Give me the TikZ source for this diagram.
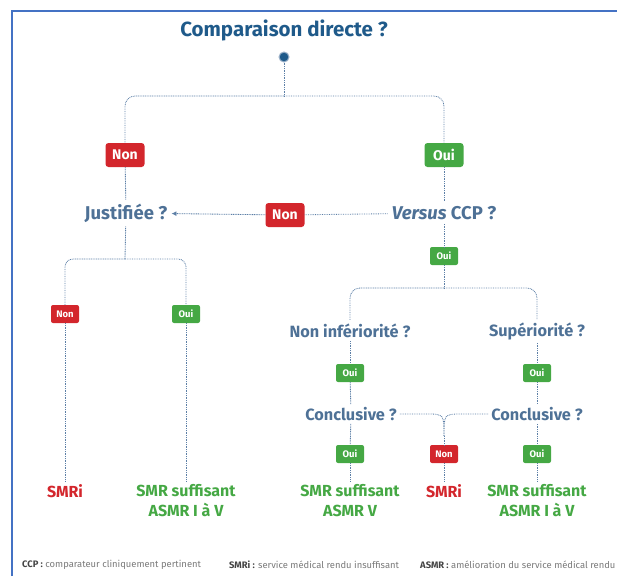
\documentclass[tikz,border=0pt]{standalone}
\usepackage{fontspec}
\setmainfont{Fira Sans}
\usepackage{tikz}
\usepackage{xcolor}
\usetikzlibrary{arrows.meta}

\definecolor{titleblue}{HTML}{1F5A8A}
\definecolor{askblue}{HTML}{4E7196}
\definecolor{linkblue}{HTML}{5C7FA6}
\definecolor{framblue}{HTML}{4472C4}
\definecolor{nonred}{HTML}{D3262C}
\definecolor{ouigreen}{HTML}{45A844}
\definecolor{notegray}{HTML}{7A7A7A}
\definecolor{notedark}{HTML}{444444}

\tikzset{
  link/.style={linkblue, line width=0.85pt, dash pattern=on 0.85pt off 0.9pt},
  ask/.style={text=askblue, font=\fontsize{16.3}{19}\selectfont\bfseries, inner sep=3pt},
  bigask/.style={ask, font=\fontsize{18.5}{22}\selectfont\bfseries, inner sep=4pt},
  bignon/.style={fill=nonred, text=white, rounded corners=3pt, minimum width=39pt, minimum height=24pt, inner sep=1pt, font=\fontsize{14}{16}\selectfont\bfseries},
  bigoui/.style={bignon, fill=ouigreen},
  smallnon/.style={fill=nonred, text=white, rounded corners=2pt, minimum width=28pt, minimum height=18pt, inner sep=1pt, font=\fontsize{9.5}{11}\selectfont\bfseries},
  smalloui/.style={smallnon, fill=ouigreen},
  good/.style={text=ouigreen, align=center, font=\fontsize{16}{20}\selectfont\bfseries, inner sep=3pt},
  bad/.style={text=nonred, font=\fontsize{16}{20}\selectfont\bfseries, inner sep=3pt},
  note/.style={text=notegray, font=\fontsize{9.4}{11}\selectfont, anchor=west, inner sep=0pt}
}

\begin{document}
\begin{tikzpicture}[x=1pt, y=-1pt]
    \useasboundingbox (0,0) rectangle (617,576);

    % Frame
    \draw[framblue, line width=1.6pt] (12,576) -- (12,11) -- (617,11);

    % Title and start point
    \node[text=titleblue, font=\fontsize{20.5}{24}\selectfont\bfseries] (title) at (284,30) {Comparaison directe ?};
    \node[circle, fill=titleblue, draw=linkblue!60, line width=1pt, inner sep=0pt, minimum size=10pt] (dot) at (284,57) {};

    % First level
    \coordinate (s1) at (284,96);
    \node[bignon] (nonA) at (125,155) {Non};
    \node[bigoui] (ouiA) at (444,155) {Oui};
    \draw[link] (dot) -- (s1);
    \draw[link, rounded corners=10pt] (s1) -| (nonA);
    \draw[link, rounded corners=10pt] (s1) -| (ouiA);

    % Questions
    \node[bigask] (justif) at (126,213) {Justifiée ?};
    \node[bigask] (versus) at (444,213) {\textit{Versus} CCP ?};
    \node[bignon] (nonB) at (285,215) {Non};
    \draw[link] (nonA) -- (justif);
    \draw[link] (ouiA) -- (versus);
    \draw[link] (versus) -- (nonB);
    \draw[link, -{Latex[length=5pt, width=5pt]}] (nonB) -- (justif);

    % Left branch
    \coordinate (s2) at (125,259);
    \node[smallnon] (nonC) at (65,314) {Non};
    \node[smalloui] (ouiC) at (186,314) {Oui};
    \draw[link] (justif) -- (s2);
    \draw[link, rounded corners=8pt] (s2) -| (nonC);
    \draw[link, rounded corners=8pt] (s2) -| (ouiC);
    \node[bad] (smriA) at (65,491) {SMRi};
    \node[good] (smrA) at (186,501) {SMR suffisant\\ASMR I à V};
    \draw[link] (nonC) -- (smriA);
    \draw[link] (ouiC) -- (smrA);

    % Right branch
    \node[smalloui] (ouiD) at (444,256) {Oui};
    \coordinate (s3) at (444,288);
    \draw[link] (versus) -- (ouiD);
    \draw[link] (ouiD) -- (s3);
    \node[ask] (noninf) at (350,331) {Non infériorité ?};
    \node[ask] (sup) at (537,331) {Supériorité ?};
    \draw[link, rounded corners=10pt] (s3) -| (noninf);
    \draw[link, rounded corners=10pt] (s3) -| (sup);

    \node[smalloui] (ouiE) at (350,373) {Oui};
    \node[smalloui] (ouiF) at (537,373) {Oui};
    \node[ask] (concL) at (351,414) {Conclusive ?};
    \node[ask] (concR) at (537,414) {Conclusive ?};
    \draw[link] (noninf) -- (ouiE);
    \draw[link] (ouiE) -- (concL);
    \draw[link] (sup) -- (ouiF);
    \draw[link] (ouiF) -- (concR);

    % Merge of the two "Conclusive ?"
    \coordinate (m1) at (426,414);
    \coordinate (m2) at (462,414);
    \coordinate (mj) at (444,436);
    \node[smalloui] (ouiG) at (350,454) {Oui};
    \node[smallnon] (nonH) at (444,454) {Non};
    \node[smalloui] (ouiI) at (537,454) {Oui};
    \draw[link] (concL) -- (m1) .. controls (444,414) .. (mj);
    \draw[link] (concR) -- (m2) .. controls (444,414) .. (mj);
    \draw[link] (mj) -- (nonH);
    \draw[link] (concL) -- (ouiG);
    \draw[link] (concR) -- (ouiI);

    % Outcomes
    \node[good] (smrB) at (350,501) {SMR suffisant\\ASMR V};
    \node[bad] (smriB) at (444,491) {SMRi};
    \node[good] (smrC) at (537,501) {SMR suffisant\\ASMR I à V};
    \draw[link] (ouiG) -- (smrB);
    \draw[link] (nonH) -- (smriB);
    \draw[link] (ouiI) -- (smrC);

    % Footnotes
    \node[note] (ccp) at (22,565) {\textcolor{notedark}{\bfseries CCP :} comparateur cliniquement pertinent};
    \node[note] (smri) at (229,565) {\textcolor{notedark}{\bfseries SMRi :} service médical rendu insuffisant};
    \node[note] (asmr) at (420,565) {\textcolor{notedark}{\bfseries ASMR :} amélioration du service médical rendu};
\end{tikzpicture}
\end{document}
